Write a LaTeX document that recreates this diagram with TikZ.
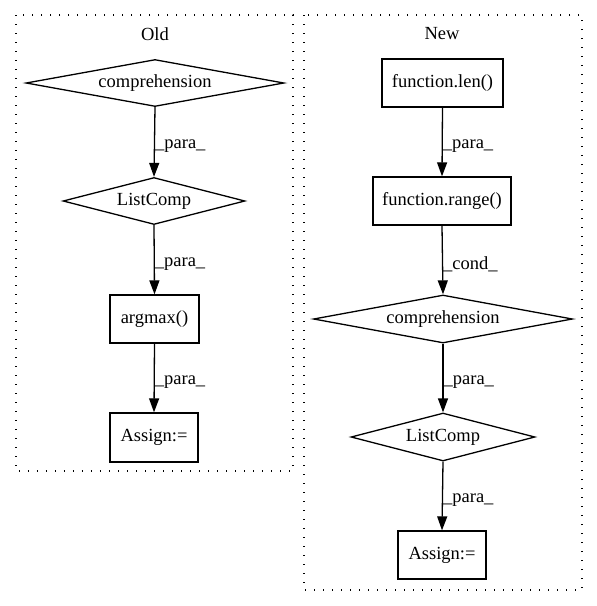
\documentclass[tikz,border=0pt]{standalone}
\usepackage{fontspec}
\setmainfont{Liberation Serif}
\usetikzlibrary{shapes.geometric,arrows.meta}

\tikzset{
  txt/.style={font=\fontsize{18.5}{20}\selectfont},
  cluster/.style={draw, line width=1.3pt, dash pattern=on 1.3pt off 7.7pt},
  title/.style={txt},
  stmt/.style={txt, draw, line width=1.3pt, rectangle, inner sep=0pt},
  cond/.style={txt, draw, line width=1.3pt, diamond, aspect=5, inner sep=0pt},
  flow/.style={line width=1.3pt, -{Triangle[length=14pt,width=10pt]}},
  lbl/.style={txt, anchor=west, inner sep=0pt, yshift=-4pt},
}

\begin{document}
\begin{tikzpicture}[x=1pt,y=-1pt]
  \useasboundingbox (0,0) rectangle (597,606);

  % the two clusters
  \draw[cluster] (16,15) rectangle (293,471);
  \draw[cluster] (304,15) rectangle (582,590);
  \node[title] (told) at (155,34) {Old};
  \node[title] (tnew) at (442,34) {New};

  % old version
  \node[cond, minimum width=258pt, minimum height=47pt] (ocomp) at (155,83) {comprehension};
  \node[cond, minimum width=182pt, minimum height=47pt] (olist) at (154,201) {ListComp};
  \node[stmt, minimum width=89pt, minimum height=48pt] (oarg) at (154.5,319) {argmax()};
  \node[stmt, minimum width=88pt, minimum height=49pt] (oasg) at (154,437.5) {Assign:=};

  \draw[flow] (ocomp.south) -- node[lbl] {\_para\_} (olist.north);
  \draw[flow] (olist.south) -- node[lbl] {\_para\_} (oarg.north);
  \draw[flow] (oarg.south) -- node[lbl] {\_para\_} (oasg.north);

  % new version
  \node[stmt, minimum width=121pt, minimum height=48pt] (nlen) at (442.5,83) {function.len()};
  \node[stmt, minimum width=138pt, minimum height=48pt] (nrange) at (442,201) {function.range()};
  \node[cond, minimum width=259pt, minimum height=48pt] (ncomp) at (443,319) {comprehension};
  \node[cond, minimum width=184pt, minimum height=48pt] (nlist) at (443,437) {ListComp};
  \node[stmt, minimum width=88pt, minimum height=48pt] (nasg) at (442,555) {Assign:=};

  \draw[flow] (nlen.south) -- node[lbl] {\_para\_} (nrange.north);
  \draw[flow] (nrange.south) -- node[lbl] {\_cond\_} (ncomp.north);
  \draw[flow] (ncomp.south) -- node[lbl] {\_para\_} (nlist.north);
  \draw[flow] (nlist.south) -- node[lbl] {\_para\_} (nasg.north);
\end{tikzpicture}
\end{document}
